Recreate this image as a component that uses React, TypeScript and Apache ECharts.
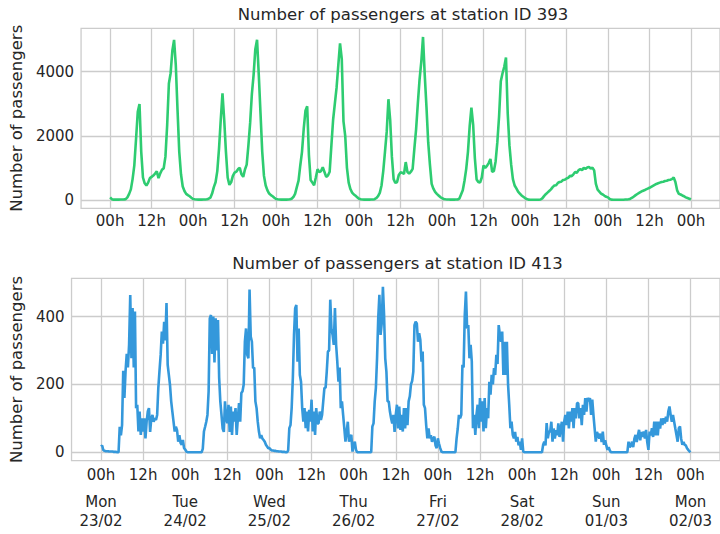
import React, { useEffect, useRef } from "react";
import * as echarts from "echarts";

// ---- Tick labels ----
const tickHours = [0, 12, 24, 36, 48, 60, 72, 84, 96, 108, 120, 132, 144, 156, 168];
const tickLabels = ["00h", "12h", "00h", "12h", "00h", "12h", "00h", "12h", "00h", "12h", "00h", "12h", "00h", "12h", "00h"];
const dayHours = [0, 24, 48, 72, 96, 120, 144, 168];
const dayLabels = ["Mon\n23/02", "Tue\n24/02", "Wed\n25/02", "Thu\n26/02", "Fri\n27/02", "Sat\n28/02", "Sun\n01/03", "Mon\n02/03"];
const ticks393 = [0, 2000, 4000];
const ticks413 = [0, 200, 400];

// ---- Station 393: one value every 30 minutes, starting Mon 23/02 00h ----
const s393Mon = [80, 25, 10, 12, 10, 10, 12, 15, 18, 25, 80, 190, 330, 650, 1080, 1900, 2750, 2990, 1500, 700, 520, 450, 540, 680, 720, 760, 820, 890, 680, 830, 940, 990, 1350, 2330, 3630, 3950, 4650, 4990, 4200, 2800, 1500, 800, 420, 280, 190, 150, 115, 70];
const s393Tue = [30, 20, 12, 10, 10, 10, 12, 15, 20, 40, 70, 200, 400, 550, 900, 1600, 2500, 3320, 2500, 1500, 700, 470, 550, 750, 850, 880, 960, 1000, 800, 720, 950, 1100, 1700, 2400, 3300, 3900, 4700, 4990, 3900, 2700, 1500, 750, 450, 300, 200, 150, 115, 70];
const s393Wed = [30, 20, 15, 10, 10, 10, 10, 12, 20, 40, 90, 190, 400, 600, 1075, 1500, 2220, 2780, 2920, 1400, 620, 540, 460, 700, 960, 870, 900, 1020, 870, 720, 760, 880, 1700, 2500, 3000, 3500, 4200, 4880, 4400, 2450, 2000, 1000, 540, 340, 230, 170, 130, 80];
const s393Thu = [40, 20, 15, 10, 10, 10, 10, 12, 15, 25, 60, 120, 220, 450, 900, 1500, 2120, 3140, 2500, 1350, 650, 530, 560, 780, 860, 850, 810, 1180, 870, 820, 880, 970, 1600, 2200, 3000, 3750, 4300, 5080, 3900, 2900, 1800, 1100, 500, 350, 250, 190, 140, 90];
const s393Fri = [60, 30, 20, 15, 12, 10, 10, 10, 12, 15, 40, 170, 300, 600, 970, 1500, 2300, 2880, 2350, 1300, 640, 560, 540, 700, 1075, 1000, 1060, 1150, 1280, 880, 900, 1200, 1800, 2600, 3700, 3950, 4150, 4440, 2700, 1700, 1100, 650, 450, 360, 260, 200, 140, 100];
const s393Sat = [60, 30, 10, 5, 5, 5, 5, 5, 8, 15, 50, 120, 180, 230, 280, 330, 400, 450, 460, 530, 560, 570, 620, 630, 670, 690, 750, 740, 800, 870, 850, 930, 960, 930, 1000, 970, 1010, 1030, 980, 1010, 920, 500, 320, 260, 200, 170, 130, 100];
const s393Sun = [80, 30, 10, 5, 5, 5, 5, 5, 5, 8, 12, 15, 20, 40, 70, 110, 150, 185, 220, 250, 280, 300, 330, 355, 380, 410, 440, 470, 500, 520, 540, 560, 570, 590, 600, 620, 630, 650, 700, 560, 300, 190, 170, 140, 115, 80, 60, 40, 20];

// ---- Station 413: one value every 20 minutes, starting Mon 23/02 00h ----
const s413Mon = [17, 20, 6, 4, 3, 3, 3, 2, 2, 2, 2, 1, 1, 1, 0, 0, 75, 50, 80, 240, 160, 240, 290, 250, 317, 464, 277, 425, 250, 415, 130, 140, 61, 120, 51, 100, 61, 100, 41, 90, 120, 130, 60, 100, 110, 90, 100, 95, 110, 190, 240, 287, 356, 320, 385, 330, 440, 258, 228, 198, 150, 120, 90, 61, 75, 65, 31, 50, 28, 22, 36, 12];
const s413Tue = [8, 2, 0, 0, 0, 0, 0, 0, 0, 0, 0, 0, 0, 0, 0, 10, 61, 75, 90, 110, 179, 395, 405, 290, 400, 265, 395, 300, 390, 220, 150, 110, 70, 60, 150, 100, 86, 140, 60, 135, 51, 120, 90, 130, 51, 100, 145, 90, 175, 180, 200, 326, 365, 287, 277, 480, 341, 326, 248, 250, 150, 130, 90, 61, 41, 50, 40, 36, 31, 22, 17, 12];
const s413Wed = [12, 8, 5, 5, 4, 4, 3, 3, 2, 2, 2, 1, 1, 1, 0, 0, 5, 71, 80, 130, 218, 346, 425, 434, 267, 365, 228, 208, 130, 90, 130, 71, 120, 61, 125, 90, 155, 61, 120, 51, 130, 85, 85, 120, 95, 110, 150, 190, 190, 238, 297, 300, 450, 365, 346, 317, 425, 317, 267, 208, 250, 130, 150, 110, 71, 31, 60, 90, 31, 45, 51, 2];
const s413Thu = [20, 31, 7, 0, 0, 0, 0, 0, 0, 0, 0, 0, 0, 0, 0, 0, 76, 85, 150, 190, 277, 395, 464, 346, 380, 488, 405, 277, 238, 150, 150, 120, 100, 85, 110, 60, 110, 140, 70, 135, 66, 110, 61, 130, 70, 130, 80, 150, 165, 200, 210, 238, 375, 385, 380, 326, 351, 331, 267, 297, 140, 130, 80, 41, 70, 41, 50, 31, 40, 46, 20, 12];
const s413Fri = [41, 25, 12, 2, 0, 0, 0, 0, 0, 0, 0, 0, 0, 0, 0, 0, 41, 70, 110, 100, 110, 258, 250, 405, 474, 365, 375, 277, 317, 267, 71, 110, 51, 110, 140, 71, 160, 90, 150, 61, 160, 71, 130, 100, 208, 170, 228, 200, 248, 228, 287, 260, 375, 346, 326, 356, 228, 326, 228, 326, 200, 140, 71, 90, 51, 41, 60, 31, 45, 20, 31, 7];
const s413Sat = [41, 2, 0, 0, 0, 0, 0, 0, 0, 0, 0, 0, 0, 0, 0, 0, 0, 0, 22, 31, 20, 86, 41, 61, 61, 90, 31, 70, 40, 65, 50, 85, 45, 70, 90, 31, 90, 110, 80, 120, 70, 120, 90, 130, 71, 130, 100, 145, 145, 100, 130, 80, 140, 110, 160, 120, 160, 150, 160, 110, 155, 110, 71, 31, 60, 51, 40, 55, 30, 61, 22, 35];
const s413Sun = [20, 7, 15, 5, 0, 0, 0, 0, 0, 0, 0, 0, 0, 0, 0, 0, 0, 0, 0, 31, 15, 20, 31, 15, 40, 51, 30, 50, 66, 35, 60, 45, 61, 40, 66, 30, 7, 61, 50, 71, 45, 90, 50, 90, 50, 90, 70, 100, 80, 100, 85, 105, 90, 120, 135, 110, 90, 110, 90, 70, 51, 31, 71, 76, 40, 22, 30, 22, 20, 12, 7, 3, 0];

const station393 = [...s393Mon, ...s393Tue, ...s393Wed, ...s393Thu, ...s393Fri, ...s393Sat, ...s393Sun];
const station413 = [...s413Mon, ...s413Tue, ...s413Wed, ...s413Thu, ...s413Fri, ...s413Sat, ...s413Sun];

const FONT = "DejaVu Sans";
const TEXT = "#262626";
const GRIDC = "#cccccc";

export default function App() {
  const ref = useRef<HTMLDivElement>(null);
  useEffect(() => {
    if (!ref.current) return;
    const chart = echarts.init(ref.current, null, { renderer: "svg" });
    const xMin = -8.4;
    const xMax = 176.4;
    const hourAxis = (grid: number, margin: number) => ({
      type: "value",
      gridIndex: grid,
      position: "bottom",
      min: xMin,
      max: xMax,
      axisLine: { show: false },
      axisTick: { show: false, customValues: tickHours },
      splitLine: { show: true, lineStyle: { color: GRIDC, width: 1.3 } },
      axisLabel: {
        customValues: tickHours,
        margin,
        color: TEXT,
        fontFamily: FONT,
        fontSize: 15,
        formatter: (v: number) => tickLabels[tickHours.indexOf(v)] ?? "",
      },
    });
    const valAxis = (grid: number, min: number, max: number, ticks: number[], gap: number) => ({
      type: "value",
      gridIndex: grid,
      min,
      max,
      name: "Number of passengers",
      nameLocation: "middle",
      nameGap: gap,
      nameTextStyle: { color: TEXT, fontFamily: FONT, fontSize: 16.5 },
      axisLine: { show: false },
      axisTick: { show: false, customValues: ticks },
      splitLine: { show: true, lineStyle: { color: GRIDC, width: 1.3 } },
      axisLabel: {
        customValues: ticks,
        margin: 7,
        color: TEXT,
        fontFamily: FONT,
        fontSize: 15,
        formatter: (v: number) => String(v),
      },
    });
    chart.setOption({
      animation: false,
      backgroundColor: "#ffffff",
      title: [
        {
          text: "Number of passengers at station ID 393",
          left: 402.9,
          top: 5.5,
          textAlign: "center",
          padding: 0,
          textStyle: { color: TEXT, fontFamily: FONT, fontSize: 16.5, fontWeight: "normal" },
        },
        {
          text: "Number of passengers at station ID 413",
          left: 397.5,
          top: 255,
          textAlign: "center",
          padding: 0,
          textStyle: { color: TEXT, fontFamily: FONT, fontSize: 16.5, fontWeight: "normal" },
        },
      ],
      grid: [
        { left: 80.7, top: 28.3, width: 644.3, height: 180, show: true, borderColor: GRIDC, borderWidth: 1.3, containLabel: false },
        { left: 70.3, top: 278.3, width: 654.5, height: 182.4, show: true, borderColor: GRIDC, borderWidth: 1.3, containLabel: false },
      ],
      xAxis: [
        hourAxis(0, 5.5),
        hourAxis(1, 7),
        {
          type: "value",
          gridIndex: 1,
          position: "bottom",
          offset: 0,
          min: xMin,
          max: xMax,
          axisLine: { show: false },
          axisTick: { show: false, customValues: dayHours },
          splitLine: { show: false },
          axisLabel: {
            customValues: dayHours,
            margin: 32.5,
            color: TEXT,
            fontFamily: FONT,
            fontSize: 15,
            lineHeight: 18.5,
            formatter: (v: number) => dayLabels[dayHours.indexOf(v)] ?? "",
          },
        },
      ],
      yAxis: [valAxis(0, -260, 5350, ticks393, 54), valAxis(1, -25, 513, ticks413, 44)],
      series: [
        {
          type: "line",
          xAxisIndex: 0,
          yAxisIndex: 0,
          showSymbol: false,
          data: station393.map((v, i) => [i * 0.5, v]),
          lineStyle: { color: "#2ecc71", width: 2.6 },
          itemStyle: { color: "#2ecc71" },
        },
        {
          type: "line",
          xAxisIndex: 1,
          yAxisIndex: 1,
          showSymbol: false,
          data: station413.map((v, i) => [i / 3, v]),
          lineStyle: { color: "#3498db", width: 2.6 },
          itemStyle: { color: "#3498db" },
        },
      ],
    });
    return () => chart.dispose();
  }, []);
  return <div ref={ref} style={{ position: "fixed", left: 0, top: 0, width: 720, height: 534 }} />;
}
